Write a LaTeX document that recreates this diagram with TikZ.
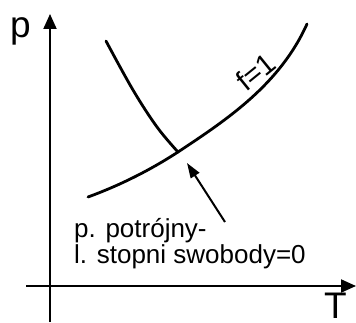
\documentclass[tikz,border=0pt]{standalone}
\usepackage{fontspec}
\setmainfont{Liberation Sans}
\usetikzlibrary{arrows.meta,positioning,calc}
\tikzset{
  axisline/.style={-{Triangle[length=15pt,width=13pt]},line width=2pt,draw=black},
  curveline/.style={line width=2.8pt,draw=black,line cap=round},
  ptarrow/.style={-{Triangle[length=15pt,width=10pt]},line width=2pt,draw=black},
  axislabel/.style={inner sep=0pt,font=\fontsize{37}{40}\selectfont},
  txtlabel/.style={inner sep=0pt,font=\fontsize{26}{28}\selectfont}
}
\begin{document}
\begin{tikzpicture}[x=1pt,y=1pt]
  \useasboundingbox (0,0) rectangle (356,322);
  % axes
  \coordinate (ytop) at (50,308);
  \coordinate (ybot) at (50,0);
  \coordinate (xlft) at (26,36);
  \coordinate (xrgt) at (356,36);
  \draw[axisline] (ybot) -- (ytop);
  \draw[axisline] (xlft) -- (xrgt);
  \node[axislabel,anchor=base west] (plbl) at (10,284) {p};
  \node[axislabel,anchor=base west] (tlbl) at (324,4) {T};
  % equilibrium curves
  \coordinate (tp) at (178,170);
  \draw[curveline] (88,125) .. controls (118,136) and (148,150.5) .. (tp)
    .. controls (228,203) and (280,238) .. (307,298);
  \draw[curveline] plot[smooth,tension=0.6] coordinates {(106,281) (133,232) (157,195) (tp)};
  \node[inner sep=0pt,anchor=base west,rotate=39,font=\fontsize{29}{30}\selectfont] (flbl) at (246,229) {f=1};
  % triple point
  \coordinate (tail) at (225,100);
  \coordinate (head) at (187,159);
  \draw[ptarrow] (tail) -- (head);
  \node[txtlabel,anchor=base west] (tp1) at (74,85) {p. potrójny-};
  \node[txtlabel,anchor=base west] (tp2) at (74,59) {l. stopni swobody=0};
\end{tikzpicture}
\end{document}
